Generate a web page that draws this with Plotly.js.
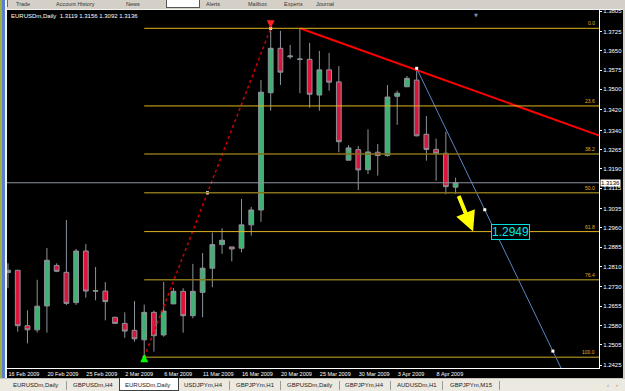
<!DOCTYPE html>
<html><head><meta charset="utf-8">
<script src="https://cdn.plot.ly/plotly-3.0.1.min.js"></script>
<style>
html,body{margin:0;padding:0;background:#000;overflow:hidden;}
#wrap{position:relative;width:625px;height:391px;overflow:hidden;}
#chart{position:absolute;left:0;top:0;width:625px;height:391px;}
.ov{position:absolute;pointer-events:none;font-family:"Liberation Sans",Arial,sans-serif;}
#top{left:0;top:0;width:625px;height:9px;background:#d4d0c8;overflow:hidden;border-bottom:1px solid #f4f4f4;font-size:5.5px;line-height:7px;color:#333;}
#top span{position:absolute;top:1px;white-space:nowrap;}
#left{left:0;top:0;width:7px;height:378px;background:linear-gradient(to right,#9cb04a 0,#9cb04a 2px,#5d7fc8 2px,#5d7fc8 5px,#f2f2f2 5px);}
#right{left:623px;top:0;width:2px;height:391px;background:#d4d0c8;}
#tabs{left:0;top:378px;width:625px;height:13px;background:#ece9e0;border-top:1px solid #c8c4bc;font-size:6px;color:#222;}
#tabs .t{position:absolute;top:3px;white-space:nowrap;}
#tabs .s{position:absolute;top:2px;width:1px;height:9px;background:#9a9a9a;}
#tabs .a{position:absolute;left:119px;top:-1px;width:58px;height:12px;background:#fff;border:1px solid #404040;border-top:none;}
</style></head>
<body><div id="wrap"><div id="chart"></div>
<div class="ov" id="top"></div>
<div class="ov" id="left"></div>
<div class="ov" id="right"></div>
<div class="ov" id="tabs"></div>
</div>
<script>
// ---- data ----
const dates = ["2009-02-16","2009-02-17","2009-02-18","2009-02-19","2009-02-20","2009-02-22","2009-02-23","2009-02-24","2009-02-25","2009-02-26","2009-02-27",
"2009-03-01","2009-03-02","2009-03-03","2009-03-04","2009-03-05","2009-03-06","2009-03-08","2009-03-09","2009-03-10","2009-03-11","2009-03-12","2009-03-13",
"2009-03-15","2009-03-16","2009-03-17","2009-03-18","2009-03-19","2009-03-20","2009-03-22","2009-03-23","2009-03-24","2009-03-25","2009-03-26","2009-03-27",
"2009-03-29","2009-03-30","2009-03-31","2009-04-01","2009-04-02","2009-04-03","2009-04-05","2009-04-06","2009-04-07","2009-04-08","2009-04-09","2009-04-10"];
const openP  = [1.2786,1.2795,1.2579,1.2563,1.2656,1.2814,1.2787,1.2669,1.2870,1.2716,1.2714,1.2612,1.2588,1.2561,1.2524,1.2631,1.2543,1.2664,1.2713,1.2618,1.2709,1.2803,1.2895,1.2886,1.2881,1.2972,1.3030,1.3487,1.3660,1.3627,1.3617,1.3617,1.3478,1.3576,1.3529,1.3224,1.3265,1.3187,1.3255,1.3242,1.3473,1.3510,1.3536,1.3325,1.3266,1.3251,1.3119];
const highP  = [1.2822,1.2796,1.2639,1.2758,1.2882,1.2822,1.2991,1.2878,1.2897,1.2808,1.2749,1.2613,1.2631,1.2675,1.2661,1.2638,1.2750,1.2726,1.2725,1.2820,1.2862,1.2942,1.2959,1.2886,1.3073,1.3042,1.3537,1.3738,1.3728,1.3673,1.3736,1.3681,1.3650,1.3642,1.3591,1.3283,1.3279,1.3344,1.3287,1.3517,1.3495,1.3552,1.3582,1.3396,1.3308,1.3335,1.3156];
const lowP   = [1.2725,1.2556,1.2510,1.2552,1.2552,1.2788,1.2660,1.2660,1.2688,1.2678,1.2600,1.2587,1.2532,1.2517,1.2456,1.2478,1.2536,1.2664,1.2552,1.2608,1.2612,1.2729,1.2859,1.2830,1.2865,1.2930,1.2984,1.3417,1.3517,1.3618,1.3485,1.3429,1.3417,1.3495,1.3255,1.3224,1.3108,1.3170,1.3164,1.3238,1.3362,1.3510,1.3317,1.3222,1.3144,1.3091,1.3092];
const closeP = [1.2795,1.2579,1.2563,1.2655,1.2834,1.2791,1.2666,1.2870,1.2714,1.2714,1.2673,1.2588,1.2558,1.2528,1.2631,1.2540,1.2636,1.2713,1.2618,1.2713,1.2803,1.2895,1.2912,1.2878,1.2972,1.3030,1.3489,1.3660,1.3567,1.3630,1.3618,1.3481,1.3576,1.3528,1.3296,1.3272,1.3186,1.3256,1.3242,1.3470,1.3485,1.3543,1.3319,1.3266,1.3251,1.3121,1.3136];

const tickDates  = ["2009-02-16","2009-02-20","2009-02-25","2009-03-02","2009-03-06","2009-03-11","2009-03-16","2009-03-20","2009-03-25","2009-03-30","2009-04-03","2009-04-08"];
const tickLabels = ["16 Feb 2009","20 Feb 2009","25 Feb 2009","2 Mar 2009","6 Mar 2009","11 Mar 2009","16 Mar 2009","20 Mar 2009","25 Mar 2009","30 Mar 2009","3 Apr 2009","8 Apr 2009"];
const priceTicks = [1.3805,1.3725,1.3650,1.3575,1.3500,1.3420,1.3340,1.3265,1.3190,1.3115,1.3035,1.2960,1.2885,1.2810,1.2730,1.2655,1.2580,1.2505,1.2425];

// Fibonacci retracement (anchored on bar indices)
const fibLevels = [0, 23.6, 38.2, 50, 61.8, 76.4, 100];
const fibLabels = ["0.0","23.6","38.2","50.0","61.8","76.4","100.0"];
const fibLowBar = 14, fibHighBar = 27;
// trendlines: [barIndex, price] anchors
const redTrend  = [[30, 1.3738],[42, 1.3575]];
const blueTrend = [[42, 1.3582],[56, 1.2480]];
const targetText = "1.2949";
const headerText = "EURUSDm,Daily  1.3119 1.3156 1.3092 1.3136";

// ---- derived ----
const idx = dates.map((d,i)=>i);
const xRange = [-0.103, 60.74];
const yRange = [1.24142, 1.38093];
const fibLow = lowP[fibLowBar], fibHigh = highP[fibHighBar];
const fibPrice = l => fibHigh - l/100*(fibHigh-fibLow);
const lastClose = closeP[closeP.length-1];
const tickVals = tickDates.map(d=>dates.indexOf(d));
const ext = (a,b,xe)=>[xe, a[1]+(b[1]-a[1])*(xe-a[0])/(b[0]-a[0])];

const gold = "#e2b420", dim = "#86721a";
const fibColors = [gold, gold, dim, dim, gold, dim, dim];
const font = '"Liberation Sans", Arial, sans-serif';

const shapes = [];
const annotations = [];
fibLevels.forEach((l,k)=>{
  const p = fibPrice(l);
  shapes.push({type:'line',xref:'x',yref:'y',x0:fibLowBar,x1:xRange[1],y0:p,y1:p,line:{color:fibColors[k],width:fibColors[k]===gold?1:1.5}});
  annotations.push({xref:'paper',x:1,xanchor:'right',xshift:-2,yref:'y',y:p,yanchor:'bottom',yshift:0,text:fibLabels[k],showarrow:false,font:{family:font,size:5,color:gold}});
});
// bid line
shapes.push({type:'line',xref:'paper',x0:0,x1:1,yref:'y',y0:lastClose,y1:lastClose,line:{color:'#8e94a0',width:1}});

const traces = [];
traces.push({type:'candlestick',x:idx,open:openP,high:highP,low:lowP,close:closeP,hoverinfo:'skip',
  increasing:{line:{color:'#8e949c',width:1},fillcolor:'#3cb371'},
  decreasing:{line:{color:'#8e949c',width:1},fillcolor:'#dc143c'},whiskerwidth:0});
// fib dotted diagonal
traces.push({type:'scatter',mode:'lines',x:[fibLowBar,fibHighBar],y:[fibLow,fibHigh],line:{color:'#d00000',width:1.5,dash:'dot'},hoverinfo:'skip'});
// red trendline (ray)
const rEnd = ext(redTrend[0],redTrend[1],63);
traces.push({type:'scatter',mode:'lines',x:[redTrend[0][0],rEnd[0]],y:[redTrend[0][1],rEnd[1]],line:{color:'#ff0000',width:2},hoverinfo:'skip'});
// blue trendline (ray)
const bEnd = ext(blueTrend[0],blueTrend[1],58);
traces.push({type:'scatter',mode:'lines',x:[blueTrend[0][0],bEnd[0]],y:[blueTrend[0][1],bEnd[1]],line:{color:'#5a84c8',width:1},hoverinfo:'skip'});
// handle points
const bMid = [(blueTrend[0][0]+blueTrend[1][0])/2,(blueTrend[0][1]+blueTrend[1][1])/2];
traces.push({type:'scatter',mode:'markers',
  x:[fibLowBar,(fibLowBar+fibHighBar)/2,fibHighBar,blueTrend[0][0],bMid[0],blueTrend[1][0]],
  y:[fibLow,(fibLow+fibHigh)/2,fibHigh,blueTrend[0][1],bMid[1],blueTrend[1][1]],
  marker:{symbol:'square',size:3,color:'#ffffff',line:{width:0}},hoverinfo:'skip'});

// header
annotations.push({xref:'paper',yref:'paper',x:0,y:1,xanchor:'left',yanchor:'top',xshift:2,yshift:-1,text:headerText,showarrow:false,font:{family:font,size:6,color:'#ffffff'}});
// current price label
annotations.push({xref:'paper',yref:'y',x:1,y:lastClose,xanchor:'left',xshift:1,text:lastClose.toFixed(4),showarrow:false,bgcolor:'#ffffff',borderpad:0,font:{family:font,size:6,color:'#000000'}});
// target label
annotations.push({xref:'x',yref:'y',x:51.6,y:fibPrice(61.8),text:targetText,showarrow:false,bgcolor:'#000000',bordercolor:'#00e0e0',borderwidth:1,borderpad:0,font:{family:font,size:12,color:'#00e8e8'}});
// yellow arrow
annotations.push({xref:'x',yref:'y',x:47.8,y:fibPrice(61.8),ax:-15,ay:-37,showarrow:true,arrowhead:2,arrowsize:1,arrowwidth:4,arrowcolor:'#ffff00',text:''});
// anchor arrows
annotations.push({xref:'x',yref:'y',x:fibHighBar,y:fibHigh,ax:0,ay:-8,showarrow:true,arrowhead:2,arrowsize:0.8,arrowwidth:2,arrowcolor:'#ff2020',text:''});
annotations.push({xref:'x',yref:'y',x:fibLowBar,y:fibLow,ax:0,ay:8,yshift:3,showarrow:true,arrowhead:2,arrowsize:0.8,arrowwidth:2,arrowcolor:'#00ff00',text:''});
// chart shift marker
annotations.push({xref:'paper',yref:'paper',x:(480-7)/592,y:1,yanchor:'top',text:'▼',showarrow:false,font:{family:'DejaVu Sans',size:5,color:'#8090a8'}});

const layout = {
  width:625,height:391,margin:{l:7,r:26,t:10,b:23,pad:0},
  paper_bgcolor:'#000000',plot_bgcolor:'#000000',showlegend:false,
  font:{family:font,size:6,color:'#ffffff'},
  xaxis:{range:xRange,tickmode:'array',tickvals:tickVals,ticktext:tickLabels,ticklabelposition:'outside right',
    showgrid:false,zeroline:false,showline:true,linecolor:'#ffffff',linewidth:1,mirror:true,ticks:'',
    tickfont:{family:font,size:5.5,color:'#ffffff'},rangeslider:{visible:false},fixedrange:true},
  yaxis:{side:'right',range:yRange,tickmode:'array',tickvals:priceTicks,ticktext:priceTicks.map(v=>v.toFixed(4)),
    showgrid:false,zeroline:false,showline:true,linecolor:'#ffffff',linewidth:1,mirror:true,
    ticks:'outside',ticklen:2,tickcolor:'#ffffff',tickfont:{family:font,size:6,color:'#ffffff'},fixedrange:true},
  shapes:shapes,annotations:annotations
};
Plotly.newPlot('chart',traces,layout,{staticPlot:true,displayModeBar:false});

// ---- window chrome ----
const topItems = [["Trade",16],["Account History",56],["News",126],["Alerts",206],["Mailbox",248],["Experts",284],["Journal",316]];
const topEl = document.getElementById('top');
topEl.innerHTML = '<div style="position:absolute;left:1px;top:0;width:7px;height:7px;background:#3a6ad0;"></div>' +
  '<div style="position:absolute;left:166px;top:-2px;width:32px;height:8px;background:#fff;border:1px solid #555;"></div>' +
  topItems.map(t=>'<span style="left:'+t[1]+'px">'+t[0]+'</span>').join('');
const tabItems = [["EURUSDm,Daily",13],["GBPUSDm,H4",73],["EURUSDm,Daily",125],["USDJPYm,H4",184],["GBPJPYm,H1",236],["GBPUSDm,Daily",287],["GBPJPYm,H4",345],["AUDUSDm,H1",397],["GBPJPYm,M15",450]];
const tabSeps = [66,229,280,339,390,442,499];
document.getElementById('tabs').innerHTML = '<div class="a"></div>' +
  tabItems.map(t=>'<span class="t" style="left:'+t[1]+'px">'+t[0]+'</span>').join('') +
  tabSeps.map(s=>'<div class="s" style="left:'+s+'px"></div>').join('') +
  '<span class="t" style="left:607px;color:#888">‹</span><span class="t" style="left:616px;color:#888">›</span>';
</script></body></html>
